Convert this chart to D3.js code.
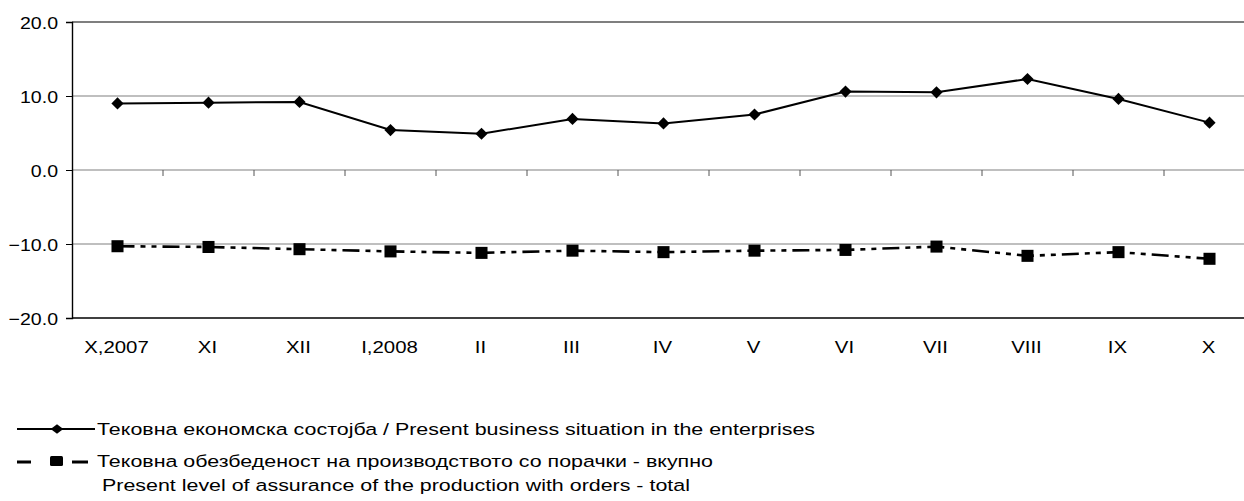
<!DOCTYPE html>
<html>
<head>
<meta charset="utf-8">
<script src="https://cdn.jsdelivr.net/npm/d3@7"></script>
<style>
  body { margin: 0; background: #fff; }
  text { font-family: "Liberation Sans", Arial, sans-serif; fill: #000; }
</style>
</head>
<body>
<div id="chart"></div>
<script>
var months = ["X,2007", "XI", "XII", "I,2008", "II", "III", "IV", "V", "VI", "VII", "VIII", "IX", "X"]
// Тековна економска состојба
var business = [9.0, 9.1, 9.2, 5.4, 4.9, 6.9, 6.3, 7.5, 10.6, 10.5, 12.3, 9.6, 6.4]
// Тековна обезбеденост на производството со порачки
var orders = [-10.3, -10.4, -10.7, -11.0, -11.2, -10.9, -11.1, -10.9, -10.8, -10.35, -11.6, -11.1, -12.0]
var yTicks = [-20, -10, 0, 10, 20]
var legend1 = "Тековна економска состојба / Present business situation in the enterprises"
var legend2a = "Тековна обезбеденост на производството со порачки - вкупно"
var legend2b = "Present level of assurance of the production with orders - total"

var w = 1244, h = 501
var pLeft = 72, pTop = 22, pBottom = 318

var svg = d3.select("#chart").append("svg")
  .attr("width", w)
  .attr("height", h)

var x = d3.scaleBand().domain(months).range([pLeft, pLeft + 91 * 13]).padding(0)
var y = d3.scaleLinear().domain([-20, 20]).range([pBottom, pTop])
var cx = function(d, i) { return x(months[i]) + x.bandwidth() / 2 }

// the source text is drawn wide, so stretch it
function wide(sel, k) {
  sel.each(function() {
    var t = d3.select(this)
    var tx = +t.attr("x") || 0, ty = +t.attr("y") || 0
    t.attr("transform", (t.attr("transform") || "") + " translate(" + tx + "," + ty + ") scale(" + k + ",1) translate(" + (-tx) + "," + (-ty) + ")")
  })
}

// gridlines
svg.append("g").selectAll("line")
  .data(yTicks)
  .enter().append("line")
  .attr("x1", pLeft).attr("x2", w)
  .attr("y1", function(d) { return y(d) })
  .attr("y2", function(d) { return y(d) })
  .attr("stroke", function(d) { return (d == 20 || d == -20) ? "#000" : "#808080" })
  .attr("stroke-width", function(d) { return d == -20 ? 1.6 : 1.2 })

// y axis
var yAxis = d3.axisLeft(y).tickValues(yTicks).tickFormat(d3.format(".1f")).tickSize(6).tickPadding(8)
var gy = svg.append("g").attr("transform", "translate(" + pLeft + ",0)").call(yAxis)
gy.select(".domain").attr("stroke", "#000").attr("stroke-width", 1.4)
gy.selectAll(".tick line").attr("stroke", "#000")
gy.selectAll("text").attr("font-size", 17).attr("fill", "#000")
  .attr("font-family", "Liberation Sans, Arial, sans-serif")
  .attr("dy", "0.36em")
gy.selectAll("text").call(wide, 1.15)

// category ticks on the zero line
svg.append("g").selectAll("line")
  .data(months.slice(1))
  .enter().append("line")
  .attr("x1", function(d) { return x(d) })
  .attr("x2", function(d) { return x(d) })
  .attr("y1", y(0)).attr("y2", y(0) + 6)
  .attr("stroke", "#555")
  .attr("stroke-width", 1)

// category labels
svg.append("g").selectAll("text")
  .data(months)
  .enter().append("text")
  .attr("x", function(d) { return x(d) + x.bandwidth() / 2 - 1 })
  .attr("y", 353)
  .attr("text-anchor", "middle")
  .attr("font-size", 17)
  .text(function(d) { return d })
  .call(wide, 1.2)

var line = d3.line()
  .x(cx)
  .y(function(d) { return y(d) })

svg.append("path")
  .attr("d", line(business))
  .attr("fill", "none")
  .attr("stroke", "#000")
  .attr("stroke-width", 2)

svg.append("path")
  .attr("d", line(orders))
  .attr("fill", "none")
  .attr("stroke", "#000")
  .attr("stroke-width", 2.6)
  .attr("stroke-dasharray", "17,6,5,6,5,6")

var diamond = d3.symbol().type(d3.symbolDiamond2).size(95)
var square = d3.symbol().type(d3.symbolSquare).size(145)

svg.append("g").selectAll("path")
  .data(business)
  .enter().append("path")
  .attr("d", diamond)
  .attr("transform", function(d, i) { return "translate(" + cx(d, i) + "," + y(d) + ")" })
  .attr("fill", "#000")

svg.append("g").selectAll("path")
  .data(orders)
  .enter().append("path")
  .attr("d", square)
  .attr("transform", function(d, i) { return "translate(" + cx(d, i) + "," + y(d) + ")" })
  .attr("fill", "#000")

// legend
var lg = svg.append("g")
lg.append("line").attr("x1", 17).attr("x2", 95).attr("y1", 429).attr("y2", 429)
  .attr("stroke", "#000").attr("stroke-width", 2)
lg.append("path").attr("d", d3.symbol().type(d3.symbolDiamond2).size(60))
  .attr("transform", "translate(57,429) scale(1.3,1)")
lg.append("text").attr("x", 97).attr("y", 435).attr("font-size", 17).text(legend1).call(wide, 1.26)

lg.append("line").attr("x1", 17).attr("x2", 88).attr("y1", 462).attr("y2", 462)
  .attr("stroke", "#000").attr("stroke-width", 3)
  .attr("stroke-dasharray", "14,41,16")
lg.append("rect").attr("x", 50).attr("y", 456).attr("width", 13).attr("height", 10).attr("rx", 1.5)
lg.append("text").attr("x", 97).attr("y", 467).attr("font-size", 17).text(legend2a).call(wide, 1.26)
lg.append("text").attr("x", 102).attr("y", 491).attr("font-size", 17).text(legend2b).call(wide, 1.26)
</script>
</body>
</html>
